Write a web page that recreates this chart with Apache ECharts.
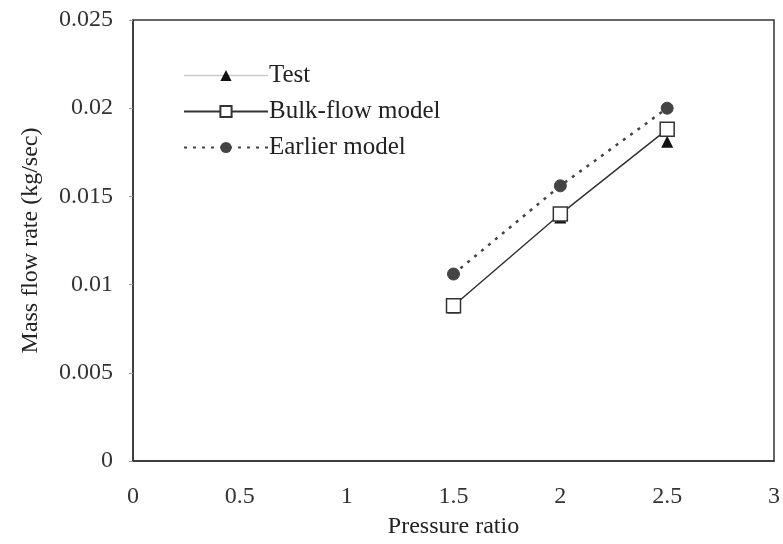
<!DOCTYPE html>
<html>
<head>
<meta charset="utf-8">
<script src="https://cdn.jsdelivr.net/npm/echarts@6/dist/echarts.min.js"></script>
<style>html,body{margin:0;padding:0;background:#fff;}#chart{width:783px;height:544px;}</style>
</head>
<body>
<div id="chart"></div>
<script>
var pressureRatio = [1.5, 2, 2.5];
var testFlow = [0.0087, 0.0138, 0.0181];
var bulkFlow = [0.0088, 0.0140, 0.0188];
var earlierFlow = [0.0106, 0.0156, 0.0200];

function pairs(xs, ys) { return xs.map(function (x, i) { return [x, ys[i]]; }); }

var font = '"Liberation Serif", "Times New Roman", serif';
var chart = echarts.init(document.getElementById('chart'), null, {renderer: 'canvas'});
chart.setOption({
  backgroundColor: '#fff',
  animation: false,
  textStyle: {fontFamily: font, color: '#222'},
  grid: {left: 133, right: 3, top: 20, bottom: 82, show: true, borderColor: '#333', borderWidth: 1.5, backgroundColor: 'transparent'},
  legend: {
    orient: 'vertical', left: 178, top: 58, itemWidth: 84, itemHeight: 14, itemGap: 11,
    textStyle: {fontFamily: font, fontSize: 25, color: '#222', padding: [0, 0, 0, -4]},
    data: [
      {name: 'Test', lineStyle: {color: '#cccccc', width: 1.5, opacity: 1}},
      {name: 'Bulk-flow model'},
      {name: 'Earlier model'}
    ]
  },
  xAxis: {
    type: 'value', min: 0, max: 3, interval: 0.5,
    name: 'Pressure ratio', nameLocation: 'middle', nameGap: 54,
    nameTextStyle: {fontFamily: font, fontSize: 24, color: '#222'},
    axisLine: {show: true, lineStyle: {color: '#333', width: 1.5}},
    axisTick: {show: false},
    splitLine: {show: false},
    axisLabel: {fontFamily: font, fontSize: 24, color: '#333', margin: 24}
  },
  yAxis: {
    type: 'value', min: 0, max: 0.025, interval: 0.005,
    name: 'Mass flow rate (kg/sec)', nameLocation: 'middle', nameGap: 90,
    nameTextStyle: {fontFamily: font, fontSize: 24, color: '#222'},
    axisLine: {show: true, lineStyle: {color: '#333', width: 1.5}},
    axisTick: {show: true, inside: false, length: 4, lineStyle: {color: '#999'}},
    splitLine: {show: false},
    axisLabel: {fontFamily: font, fontSize: 24, color: '#333', margin: 20}
  },
  series: [
    {
      name: 'Test', type: 'line', data: pairs(pressureRatio, testFlow), z: 2,
      symbol: 'triangle', symbolSize: 12,
      itemStyle: {color: '#111'},
      lineStyle: {width: 0, opacity: 0}
    },
    {
      name: 'Bulk-flow model', type: 'line', data: pairs(pressureRatio, bulkFlow), z: 3,
      symbol: 'rect', symbolSize: 14,
      itemStyle: {color: '#fff', borderColor: '#333', borderWidth: 1.5},
      lineStyle: {color: '#333', width: 1.5}
    },
    {
      name: 'Earlier model', type: 'line', data: pairs(pressureRatio, earlierFlow), z: 4,
      symbol: 'circle', symbolSize: 12,
      itemStyle: {color: '#444', borderColor: '#444'},
      lineStyle: {color: '#444', width: 2.5, type: [3, 6]}
    }
  ]
});
</script>
</body>
</html>
